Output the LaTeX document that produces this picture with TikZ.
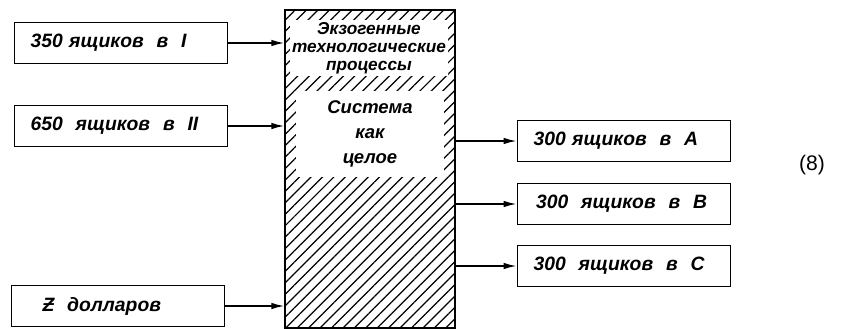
\documentclass[tikz,border=0pt]{standalone}
\usepackage{fontspec}
\setmainfont{Liberation Sans}
\usepackage{tikz}
\usetikzlibrary{arrows.meta, positioning, patterns.meta}

\begin{document}
\begin{tikzpicture}[
        x=0.02cm, y=-0.02cm,
        lbl/.style={rectangle, draw=black, line width=1pt, fill=white,
                    minimum height=0.82cm, inner ysep=0pt, inner xsep=0.32cm,
                    text width=3.62cm, align=left,
                    font=\fontsize{11}{12}\selectfont\bfseries\itshape},
        sys/.style={rectangle, draw=black, line width=1.6pt,
                    pattern={Lines[angle=45, distance=4.6pt, line width=0.7pt]},
                    minimum width=3.4cm, minimum height=6.36cm, inner sep=0pt},
        arr/.style={-{Latex[length=2.6mm, width=1.3mm]}, line width=0.9pt}
      ]
        \useasboundingbox (0,0) rectangle (841,328);
        % system block
        \node[sys] (sys) at (370,169) {};
        \node[fill=white, align=center, inner sep=1pt,
              font=\fontsize{9.8}{10.3}\selectfont\bfseries\itshape] (exo) at (369,48)
              {Экзогенные\\технологические\\процессы};
        \node[fill=white, align=center, inner sep=0pt, minimum width=2.98cm, minimum height=1.74cm,
              font=\fontsize{10.5}{14.2}\selectfont\bfseries\itshape] (whole) at (370,134)
              {Система\\как\\целое};
        % inputs
        \node[lbl] (in1) at (121,43) {350 ящиков\ \ в\ \ I};
        \node[lbl] (in2) at (121,126) {650\ \ ящиков\ \ в\ \ II};
        \node[lbl] (in3) at (118,306) {\hspace*{0.3cm}Ƶ\ \ долларов};
        \draw[arr] (in1.east) -- (in1.east -| sys.west);
        \draw[arr] (in2.east) -- (in2.east -| sys.west);
        \draw[arr] (in3.east) -- (in3.east -| sys.west);
        % outputs
        \node[lbl] (outA) at (624,141) {300 ящиков\ \ в\ \ A};
        \node[lbl] (outB) at (624,204) {\hspace*{0.05cm}300\ \ ящиков\ \ в\ \ B};
        \node[lbl] (outC) at (624,266) {300\ \ ящиков\ \ в\ \ C};
        \draw[arr] (sys.east |- outA.west) -- (outA.west);
        \draw[arr] (sys.east |- outB.west) -- (outB.west);
        \draw[arr] (sys.east |- outC.west) -- (outC.west);
        \node[font=\fontsize{12}{14}\selectfont] (eqno) at (812,165) {(8)};
      \end{tikzpicture}
\end{document}
